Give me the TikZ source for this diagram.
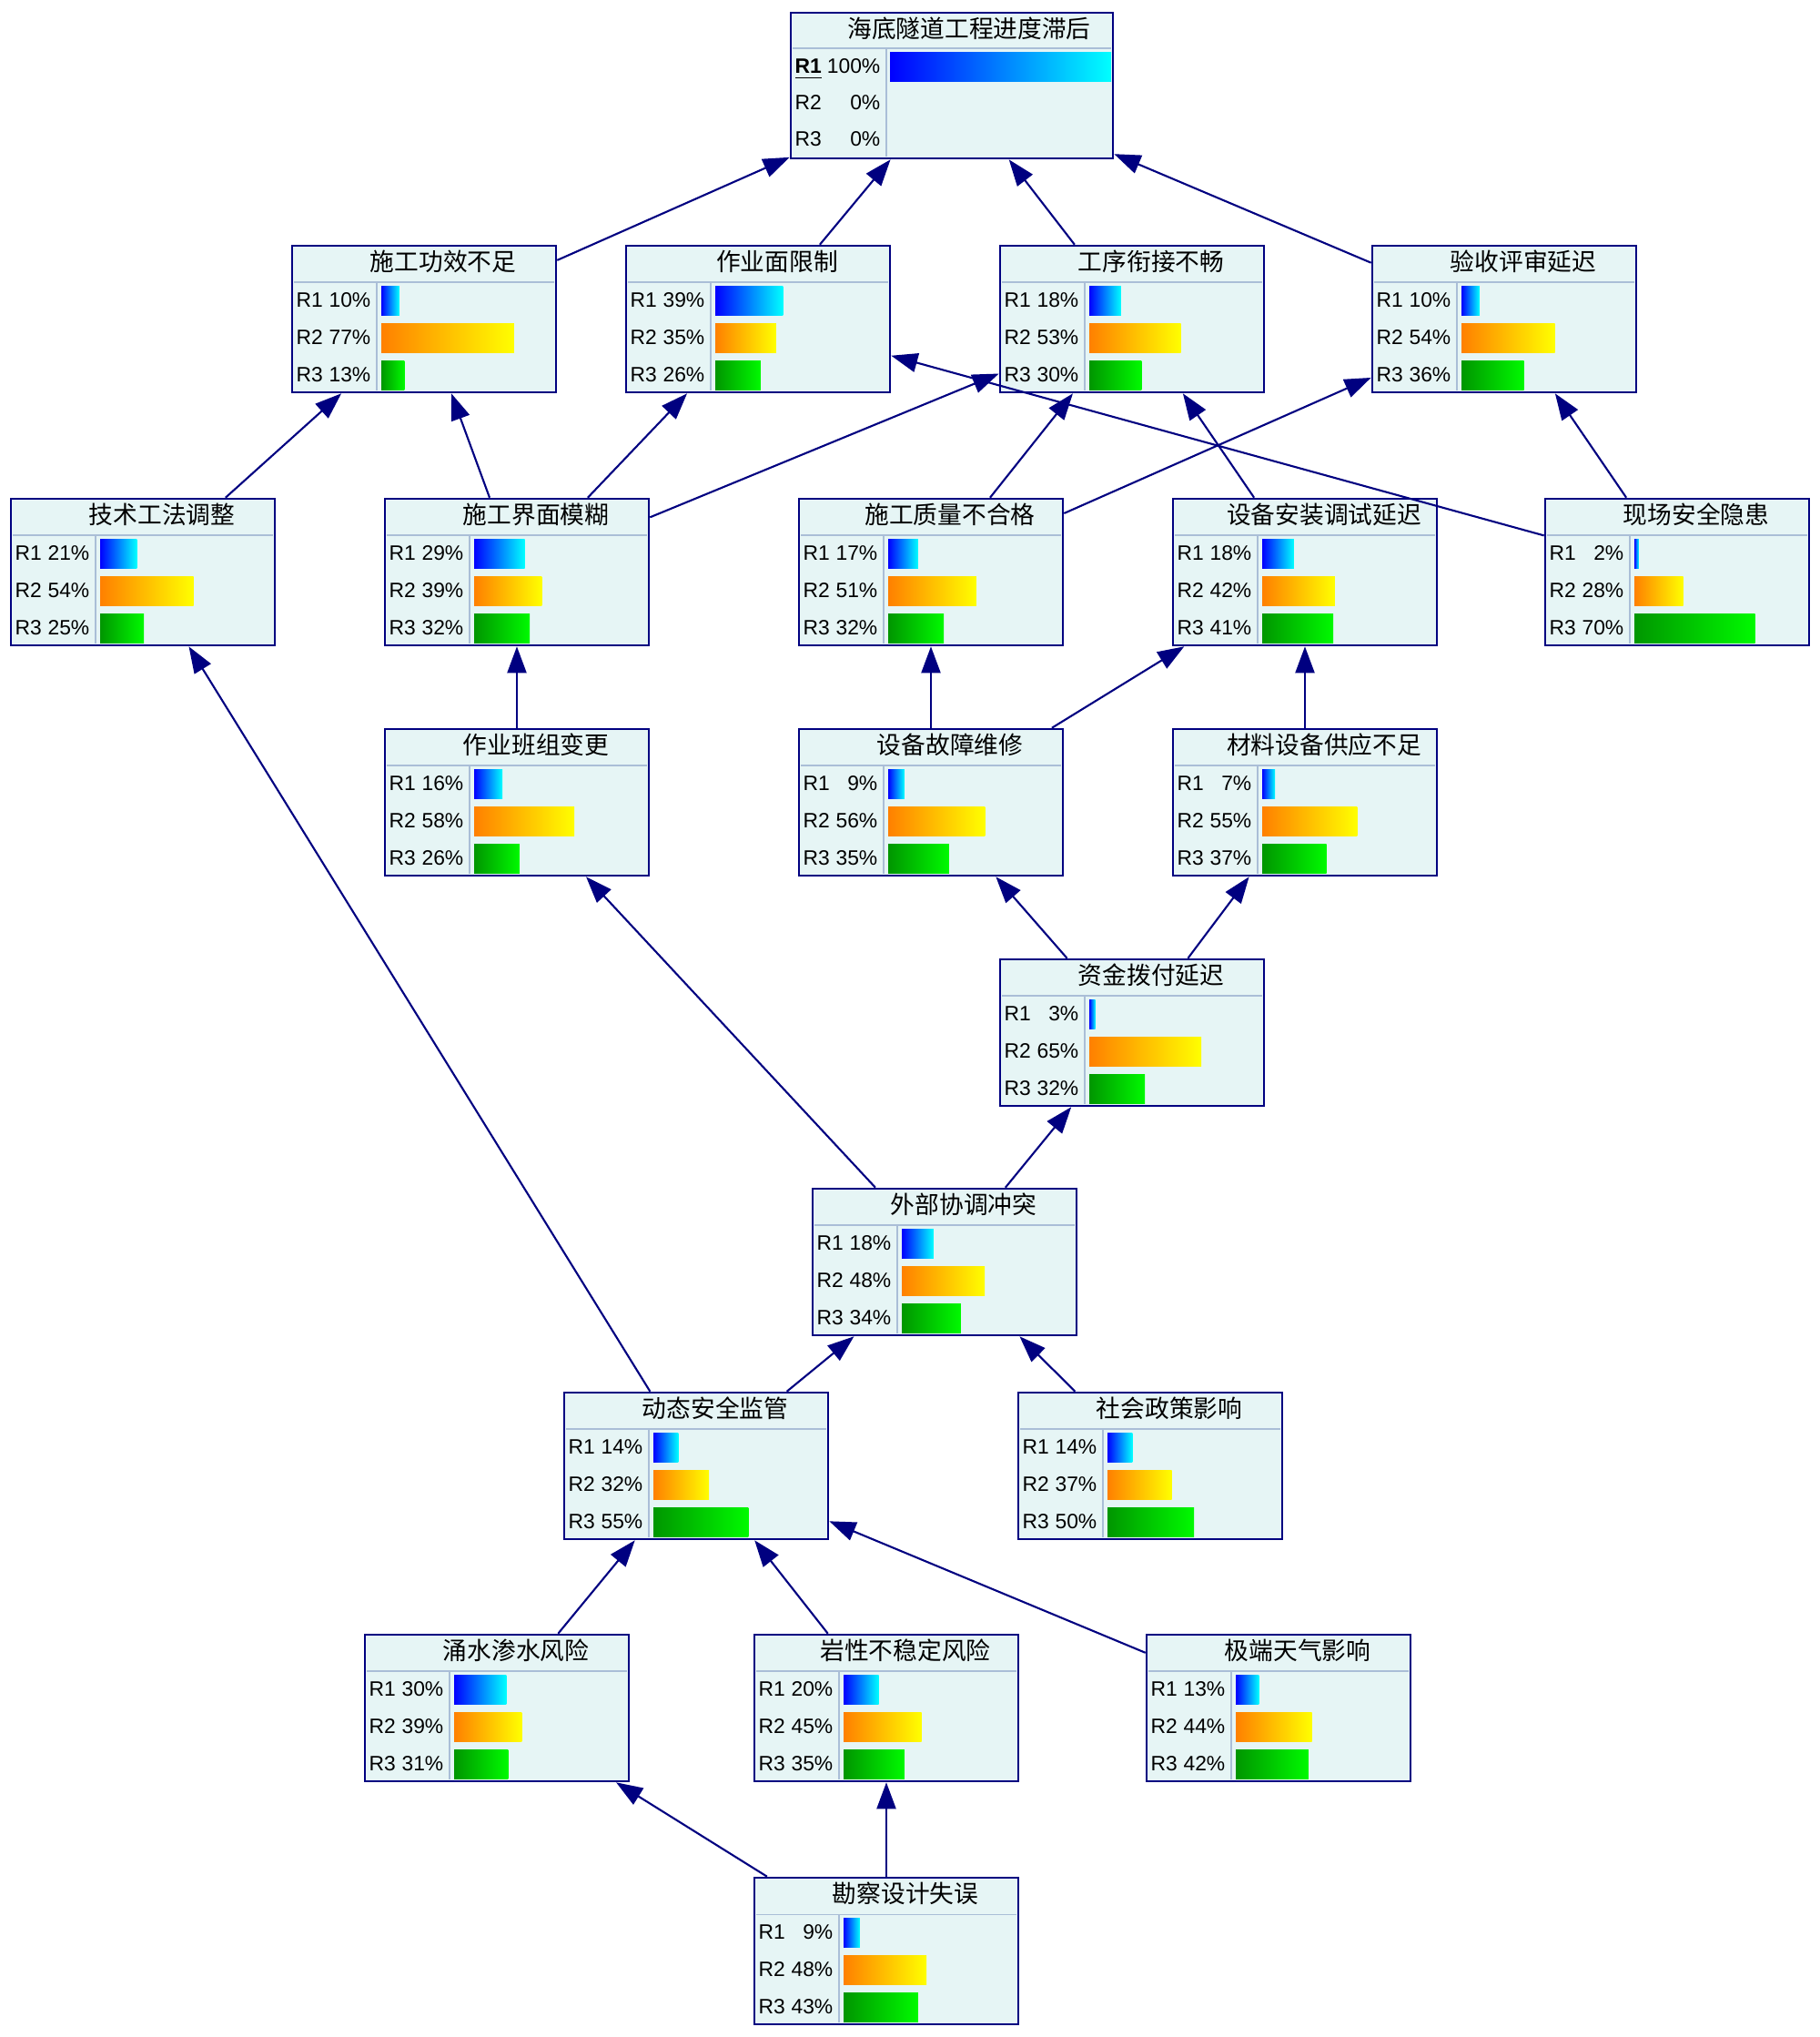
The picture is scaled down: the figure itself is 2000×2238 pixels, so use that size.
\documentclass[tikz,border=0pt]{standalone}
\usepackage{fontspec}
\setmainfont{Liberation Sans}
\newfontfamily\cjk{Noto Sans CJK SC}
\usetikzlibrary{arrows.meta}

\definecolor{bnnavy}{RGB}{0,0,128}
\definecolor{bnfill}{RGB}{230,245,245}
\definecolor{bnline}{RGB}{170,190,215}
\definecolor{bnblueL}{RGB}{0,0,255}
\definecolor{bnblueR}{RGB}{0,255,255}
\definecolor{bnorangeL}{RGB}{255,128,0}
\definecolor{bnorangeR}{RGB}{255,255,0}
\definecolor{bngreenL}{RGB}{0,150,0}
\definecolor{bngreenR}{RGB}{0,250,0}

\tikzset{
  bnbox/.style={draw=bnnavy, fill=bnfill, line width=0.7pt, rectangle, minimum width=2.9cm, minimum height=1.61cm, inner sep=0pt},
  bnsep/.style={draw=bnline, line width=0.3pt},
  bntitle/.style={font=\cjk\fontsize{7.6}{8}\selectfont, inner sep=0pt},
  bnlabel/.style={font=\fontsize{6.5}{7}\selectfont, inner sep=0pt},
  link/.style={draw=bnnavy, line width=0.6pt, -{Triangle[length=2.9mm, width=2.1mm]}},
}

% name, left, top, title, R1, R2, R3
\newcommand{\bnnode}[7]{%
  \node[bnbox] (#1) at (#2+145,#3+80.5) {};
  \begin{scope}[shift={(#2,#3)}]
    \draw[bnsep] (2,40) -- (288,40) (93,40) -- (93,159);
    \node[bntitle] at (166,17) {#4};
    \foreach \r/\p/\cl/\cr [count=\i] in {R1/#5/bnblueL/bnblueR, R2/#6/bnorangeL/bnorangeR, R3/#7/bngreenL/bngreenR} {
      \pgfmathsetmacro\yy{19+41*\i}
      \pgfmathsetmacro\bw{max(3,1.88*\p+1)}
      \node[bnlabel, anchor=base west] at (4,\yy+7.5) {\r};
      \node[bnlabel, anchor=base east] at (87,\yy+7.5) {\p\%};
      \shade[left color=\cl, right color=\cr] (98,\yy-16) rectangle ++(\bw,32);
    }
  \end{scope}}

\begin{document}
\begin{tikzpicture}[x=0.01cm, y=-0.01cm]
  \useasboundingbox (0,0) rectangle (2000,2238);

  % top node
  \node[bnbox, minimum width=3.54cm, minimum height=1.6cm] (Delay) at (1046,94) {};
  \begin{scope}[shift={(869,14)}]
    \draw[bnsep] (2,39) -- (352,39) (105,39) -- (105,158);
    \node[bntitle] at (196,17) {海底隧道工程进度滞后};
    \node[bnlabel, anchor=base west] at (4,66.5) {\underline{\textbf{R1}}};
    \node[bnlabel, anchor=base east] at (99,66.5) {100\%};
    \shade[left color=bnblueL, right color=bnblueR] (109,43) rectangle (352,75);
    \node[bnlabel, anchor=base west] at (4,106.5) {R2};
    \node[bnlabel, anchor=base east] at (99,106.5) {0\%};
    \node[bnlabel, anchor=base west] at (4,146.5) {R3};
    \node[bnlabel, anchor=base east] at (99,146.5) {0\%};
  \end{scope}

  \bnnode{Eff}{321}{270}{施工功效不足}{10}{77}{13}
  \bnnode{Face}{688}{270}{作业面限制}{39}{35}{26}
  \bnnode{Seq}{1099}{270}{工序衔接不畅}{18}{53}{30}
  \bnnode{Accept}{1508}{270}{验收评审延迟}{10}{54}{36}

  \bnnode{Tech}{12}{548}{技术工法调整}{21}{54}{25}
  \bnnode{Iface}{423}{548}{施工界面模糊}{29}{39}{32}
  \bnnode{Qual}{878}{548}{施工质量不合格}{17}{51}{32}
  \bnnode{Install}{1289}{548}{设备安装调试延迟}{18}{42}{41}
  \bnnode{Hazard}{1698}{548}{现场安全隐患}{2}{28}{70}

  \bnnode{Crew}{423}{801}{作业班组变更}{16}{58}{26}
  \bnnode{Fault}{878}{801}{设备故障维修}{9}{56}{35}
  \bnnode{Supply}{1289}{801}{材料设备供应不足}{7}{55}{37}

  \bnnode{Fund}{1099}{1054}{资金拨付延迟}{3}{65}{32}
  \bnnode{Coord}{893}{1306}{外部协调冲突}{18}{48}{34}

  \bnnode{Monitor}{620}{1530}{动态安全监管}{14}{32}{55}
  \bnnode{Policy}{1119}{1530}{社会政策影响}{14}{37}{50}

  \bnnode{Water}{401}{1796}{涌水渗水风险}{30}{39}{31}
  \bnnode{Rock}{829}{1796}{岩性不稳定风险}{20}{45}{35}
  \bnnode{Weather}{1260}{1796}{极端天气影响}{13}{44}{42}

  \bnnode{Survey}{829}{2063}{勘察设计失误}{9}{48}{43}

  \foreach \u / \v in {Eff/Delay, Face/Delay, Seq/Delay, Accept/Delay,
      Tech/Eff, Iface/Eff, Iface/Face, Iface/Seq, Hazard/Face,
      Qual/Seq, Qual/Accept, Install/Seq, Hazard/Accept,
      Crew/Iface, Fault/Qual, Fault/Install, Supply/Install,
      Fund/Fault, Fund/Supply, Coord/Fund, Coord/Crew,
      Monitor/Coord, Policy/Coord, Monitor/Tech,
      Water/Monitor, Rock/Monitor, Weather/Monitor,
      Survey/Water, Survey/Rock}
    \draw[link] (\u) -- (\v);
\end{tikzpicture}
\end{document}
